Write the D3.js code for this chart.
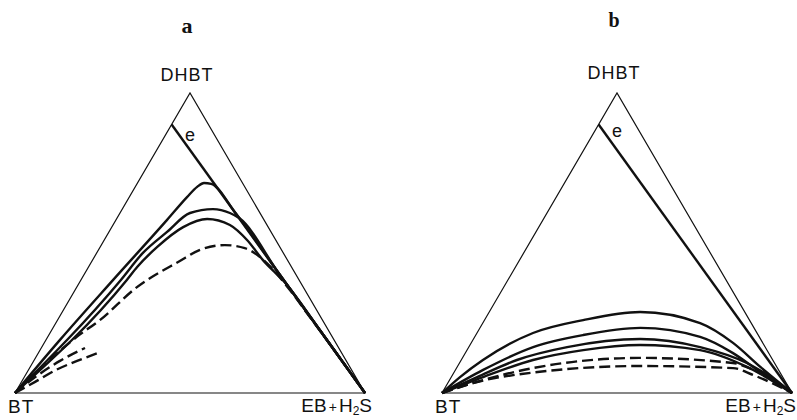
<!DOCTYPE html>
<html>
<head>
<meta charset="utf-8">
<script src="https://cdn.jsdelivr.net/npm/d3@7"></script>
<style>
  body { margin: 0; background: #fff; }
  svg { display: block; }
  text { font-family: "Liberation Sans", Arial, sans-serif; fill: #111; }
</style>
</head>
<body>
<div id="chart"></div>
<script>
// Compositions are [x DHBT, x EB]; x BT = 1 - both.
// panel a
var curvesA = [
    [[0, 0], [0.177, 0.040], [0.377, 0.092], [0.577, 0.146], [0.653, 0.165], [0.687, 0.177], [0.700, 0.190], [0.697, 0.212], [0.6, 0.330], [0.4, 0.553], [0.2, 0.777], [0, 1]],
    [[0, 0], [0.377, 0.114], [0.467, 0.132], [0.537, 0.166], [0.600, 0.200], [0.613, 0.259], [0.600, 0.314], [0.583, 0.349], [0.4, 0.553], [0.2, 0.777], [0, 1]],
    [[0, 0], [0.377, 0.131], [0.420, 0.139], [0.487, 0.163], [0.553, 0.204], [0.580, 0.259], [0.560, 0.334], [0.510, 0.408], [0.443, 0.487], [0.37, 0.585], [0.2, 0.777], [0, 1]]
];
var dashedA = [
    [[0, 0], [0.187, 0.083], [0.243, 0.121], [0.353, 0.172], [0.440, 0.251], [0.477, 0.290], [0.493, 0.353], [0.483, 0.415], [0.433, 0.503], [0.343, 0.614], [0.253, 0.716], [0.21, 0.765], [0, 1]],
    [[0, 0], [0.037, 0.039], [0.077, 0.079], [0.107, 0.124], [0.133, 0.170]],
    [[0, 0], [0.057, 0.034], [0.107, 0.075], [0.150, 0.125]]
];
// panel b
var curvesB = [
    [[0, 0], [0.053, 0.025], [0.110, 0.062], [0.200, 0.160], [0.243, 0.282], [0.270, 0.431], [0.233, 0.621], [0.167, 0.748], [0.087, 0.866], [0, 1]],
    [[0, 0], [0.077, 0.079], [0.153, 0.184], [0.193, 0.306], [0.217, 0.458], [0.187, 0.644], [0.133, 0.765], [0.070, 0.874], [0, 1]],
    [[0, 0], [0.053, 0.074], [0.110, 0.159], [0.153, 0.281], [0.180, 0.476], [0.153, 0.661], [0.100, 0.821], [0.050, 0.918], [0, 1]],
    [[0, 0], [0.053, 0.091], [0.110, 0.205], [0.143, 0.332], [0.160, 0.486], [0.143, 0.666], [0.087, 0.828], [0, 1]]
];
var dashedB = [
    [[0, 0], [0.043, 0.096], [0.083, 0.218], [0.117, 0.508], [0.100, 0.781], [0.077, 0.851], [0, 1]],
    [[0, 0], [0.033, 0.072], [0.053, 0.140], [0.090, 0.521], [0.083, 0.790], [0.060, 0.859], [0, 1]]
];
// boundary "e" runs from this point on the BT-DHBT side to the EB corner
var eLine = [[0.895, 0], [0, 1]];
var panels = ["a", "b"];
var vertexLabels = ["DHBT", "BT", "EB+H2S"];

var width = 797, height = 420;
var side = 350, baseY = 393, topY = 93;
var lefts = [15, 442];

var svg = d3.select("#chart").append("svg")
    .attr("width", width)
    .attr("height", height);

var y = d3.scaleLinear().domain([0, 1]).range([baseY, topY]);

function drawPanel(i, solid, dashed) {
    var x = d3.scaleLinear().domain([0, 1]).range([lefts[i], lefts[i] + side]);
    var g = svg.append("g");

    // ternary -> cartesian
    var line = d3.line()
        .x(function (d) { return x(d[1] + d[0] / 2); })
        .y(function (d) { return y(d[0]); })
        .curve(d3.curveMonotoneX);
    var straight = d3.line()
        .x(function (d) { return x(d[1] + d[0] / 2); })
        .y(function (d) { return y(d[0]); });

    // triangle
    g.append("path")
        .attr("d", straight([[0, 0], [1, 0], [0, 1], [0, 0]]))
        .attr("fill", "none")
        .attr("stroke", "#111")
        .attr("stroke-width", 1.2)
        .attr("stroke-linejoin", "miter");

    g.append("path")
        .attr("d", straight(eLine))
        .attr("fill", "none")
        .attr("stroke", "#111")
        .attr("stroke-width", 2.4);

    g.selectAll(".solid").data(solid).enter().append("path")
        .attr("d", line)
        .attr("fill", "none")
        .attr("stroke", "#111")
        .attr("stroke-width", 2.4);

    g.selectAll(".dashed").data(dashed).enter().append("path")
        .attr("d", line)
        .attr("fill", "none")
        .attr("stroke", "#111")
        .attr("stroke-width", 2.4)
        .attr("stroke-dasharray", "11,5");

    // labels
    var apexX = x(0.5);
    g.append("text")
        .attr("x", apexX - 3).attr("y", i === 0 ? 33 : 27)
        .attr("text-anchor", "middle")
        .style("font-family", "'Liberation Serif', serif")
        .style("font-weight", "bold")
        .style("font-size", i === 0 ? "22px" : "20px")
        .text(panels[i]);

    g.append("text")
        .attr("x", apexX - 3).attr("y", i === 0 ? 81 : 79)
        .attr("text-anchor", "middle")
        .style("font-size", "18px")
        .style("letter-spacing", "1px")
        .text(vertexLabels[0]);

    g.append("text")
        .attr("x", apexX).attr("y", i === 0 ? 141 : 137)
        .attr("text-anchor", "middle")
        .style("font-size", "18px")
        .text("e");

    g.append("text")
        .attr("x", x(0) - 7).attr("y", 413)
        .style("font-size", "19px")
        .style("letter-spacing", "1px")
        .text(vertexLabels[1]);

    var eb = g.append("text")
        .attr("x", x(1) + (i === 0 ? 7 : 4)).attr("y", 412)
        .attr("text-anchor", "end")
        .style("font-size", "19px");
    eb.append("tspan").text("EB");
    eb.append("tspan").attr("dx", 2).style("font-size", "14px").text("+");
    eb.append("tspan").attr("dx", 2).text("H");
    eb.append("tspan").attr("dy", 3).style("font-size", "12px").text("2");
    eb.append("tspan").attr("dy", -3).text("S");
}

drawPanel(0, curvesA, dashedA);
drawPanel(1, curvesB, dashedB);
</script>
</body>
</html>
